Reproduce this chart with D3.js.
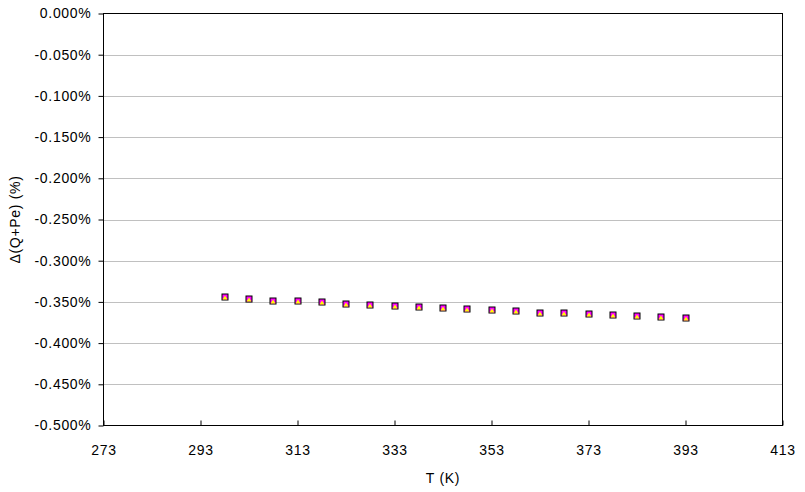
<!DOCTYPE html>
<html>
<head>
<meta charset="UTF-8">
<script src="https://cdn.jsdelivr.net/npm/d3@7"></script>
<style>
body{margin:0;background:#fff;}
text{font-family:"Liberation Sans",Arial,sans-serif;font-size:14px;letter-spacing:0.7px;fill:#000;}
</style>
</head>
<body>
<div id="chart"></div>
<script>
// temperatures (K)
var temps = [298, 303, 308, 313, 318, 323, 328, 333, 338, 343, 348, 353, 358, 363, 368, 373, 378, 383, 388, 393];
// delta(Q+Pe) in %
var deltaQPe = [-0.3434, -0.3455, -0.3471, -0.3483, -0.3495, -0.3511, -0.3523, -0.3535, -0.3552, -0.3562,
	-0.3572, -0.3592, -0.3604, -0.3617, -0.3625, -0.3632, -0.3650, -0.3657, -0.3674, -0.3686];
var xTicks = [273, 293, 313, 333, 353, 373, 393, 413];
var yTicks = [0, -0.05, -0.1, -0.15, -0.2, -0.25, -0.3, -0.35, -0.4, -0.45, -0.5];

var W = 805, H = 492;
var pL = 103.5, pR = 782.5, pT = 13.5, pB = 425.5;

var svg = d3.select("#chart").append("svg").attr("width", W).attr("height", H);

var x = d3.scaleLinear().domain([273, 413]).range([pL, pR]);
var y = d3.scaleLinear().domain([-0.5, 0]).range([pB, pT]);

// gridlines
svg.append("g").selectAll("line").data(yTicks.filter(function(d){return d > -0.5 && d < 0;}))
	.enter().append("line")
	.attr("x1", pL).attr("x2", pR)
	.attr("y1", function(d){return Math.round(y(d)) + 0.5;})
	.attr("y2", function(d){return Math.round(y(d)) + 0.5;})
	.attr("stroke", "#c0c0c0");

// border
svg.append("rect").attr("x", pL).attr("y", pT)
	.attr("width", pR - pL).attr("height", pB - pT)
	.attr("fill", "none").attr("stroke", "#000");

// y axis (plain hyphen for minus, like the original)
var yAxis = d3.axisLeft(y).tickValues(yTicks).tickSize(5).tickPadding(7)
	.tickFormat(function(d){return d3.format(".3f")(d).replace("\u2212", "-") + "%";});
var gy = svg.append("g").attr("transform", "translate(" + pL + ",0)").call(yAxis)
	.attr("font-family", null).attr("font-size", null);
gy.select(".domain").remove();

// x axis, ticks point up
var xAxis = d3.axisBottom(x).tickValues(xTicks).tickSize(-5).tickPadding(20);
var gx = svg.append("g").attr("transform", "translate(0," + pB + ")").call(xAxis)
	.attr("font-family", null).attr("font-size", null);
gx.select(".domain").remove();

// axis titles
svg.append("text").attr("x", (pL + pR) / 2).attr("y", 483)
	.attr("text-anchor", "middle").text("T (K)");
svg.append("text").attr("transform", "translate(20," + ((pT + pB) / 2) + ") rotate(-90)")
	.attr("text-anchor", "middle").text("Δ(Q+Pe) (%)");

// markers
var pts = temps.map(function(t, i){return {t: t, v: deltaQPe[i]};});
var m = svg.append("g").selectAll("g").data(pts).enter().append("g")
	.attr("transform", function(d){return "translate(" + Math.round(x(d.t)) + "," + (Math.round(y(d.v)) + 1) + ")";});
m.append("rect").attr("x", -3.5).attr("y", -3.5).attr("width", 7).attr("height", 7).attr("fill", "#000");
m.append("rect").attr("x", -2.5).attr("y", -2.5).attr("width", 5).attr("height", 5).attr("fill", "#ff00ff");
m.append("path").attr("d", "M0,-1.5 L2.5,2.5 L-2.5,2.5 Z").attr("fill", "#ffff00");
</script>
</body>
</html>
